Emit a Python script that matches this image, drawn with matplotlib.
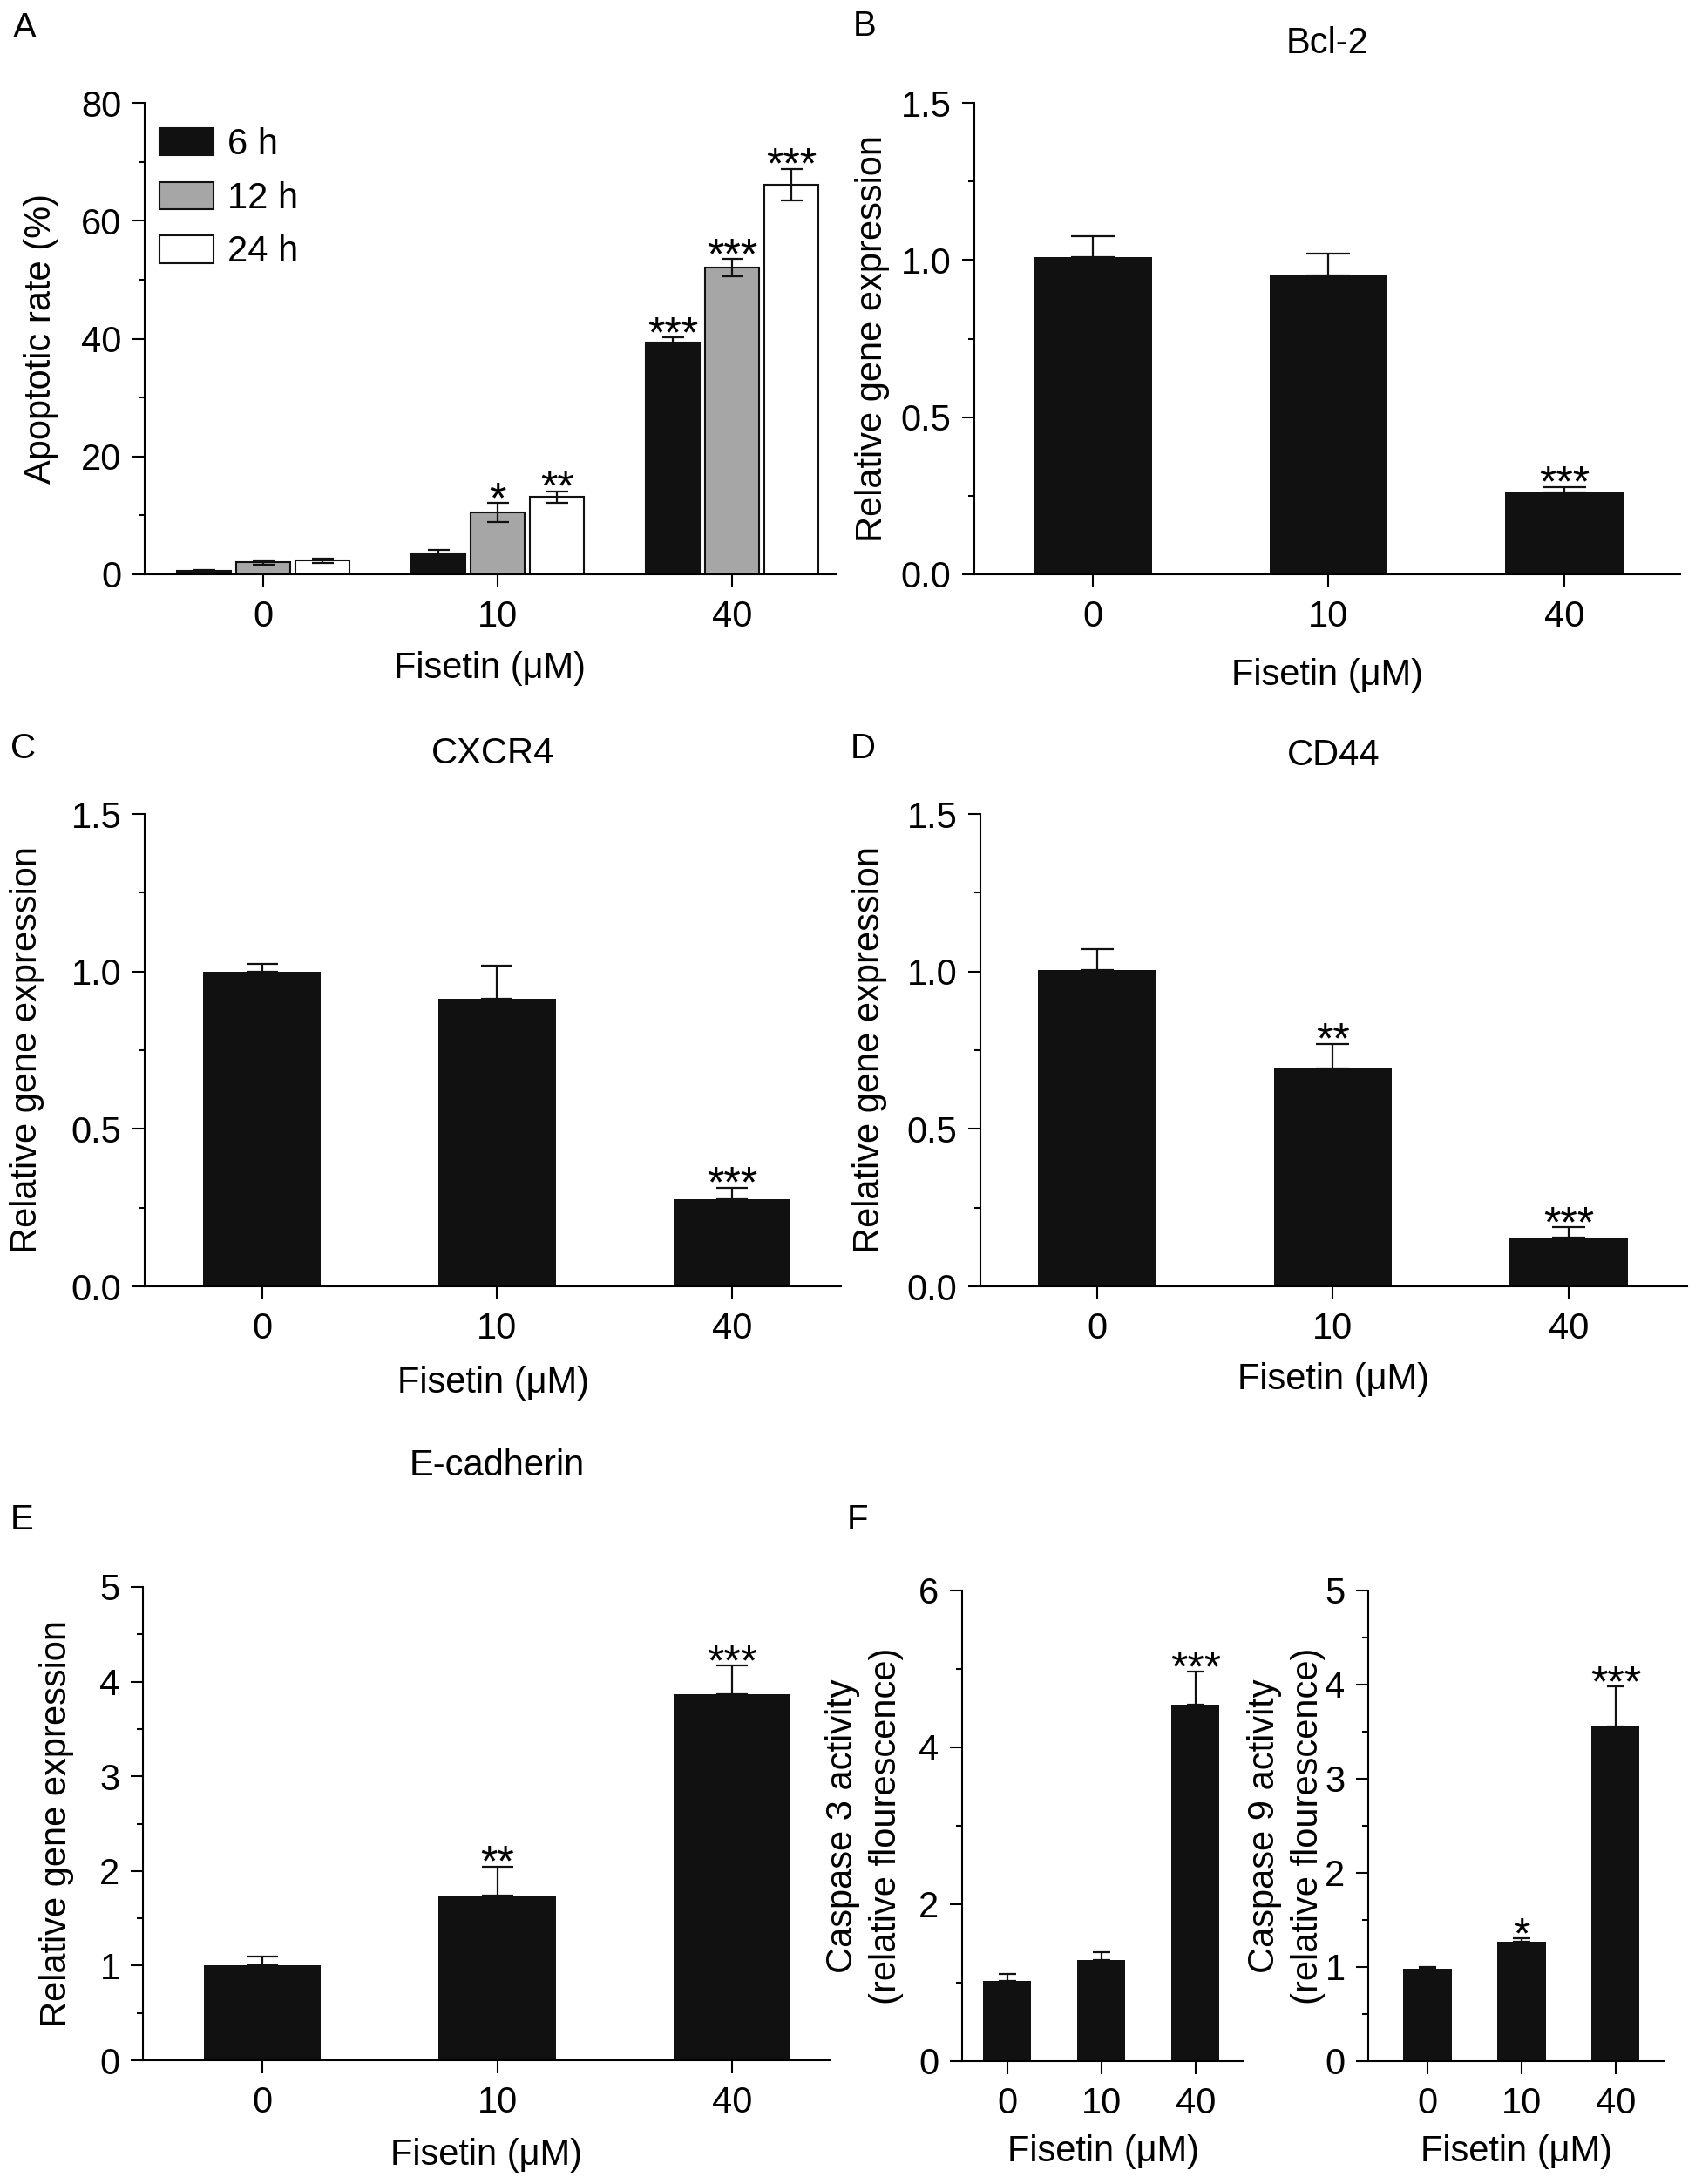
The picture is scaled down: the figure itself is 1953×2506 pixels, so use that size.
import numpy as np
import matplotlib
matplotlib.use('Agg')
import matplotlib.pyplot as plt
from matplotlib.ticker import MultipleLocator, FormatStrFormatter

plt.rcParams['font.family'] = ['Liberation Sans', 'DejaVu Sans']
plt.rcParams['font.size'] = 30

W, H = 1953, 2506

doses = ['0', '10', '40']

# panel A, apoptotic rate (%)
apop_6h = [0.6, 3.6, 39.3]
apop_6h_err = [0.2, 0.5, 0.9]
apop_12h = [2.0, 10.5, 52.0]
apop_12h_err = [0.4, 1.6, 1.5]
apop_24h = [2.3, 13.1, 66.1]
apop_24h_err = [0.4, 1.0, 2.7]
apop_6h_stars = ['', '', '***']
apop_12h_stars = ['', '*', '***']
apop_24h_stars = ['', '**', '***']

bcl2 = [1.01, 0.95, 0.26]
bcl2_err = [0.065, 0.07, 0.018]
bcl2_stars = ['', '', '***']

cxcr4 = [1.00, 0.914, 0.278]
cxcr4_err = [0.025, 0.104, 0.036]
cxcr4_stars = ['', '', '***']

cd44 = [1.005, 0.692, 0.156]
cd44_err = [0.067, 0.078, 0.032]
cd44_stars = ['', '**', '***']

ecad = [1.005, 1.741, 3.870]
ecad_err = [0.093, 0.306, 0.30]
ecad_stars = ['', '**', '***']

casp3 = [1.02, 1.29, 4.54]
casp3_err = [0.087, 0.10, 0.425]
casp3_stars = ['', '', '***']

casp9 = [0.98, 1.27, 3.56]
casp9_err = [0.02, 0.036, 0.417]
casp9_stars = ['', '*', '***']

BLACK = '#111111'
GRAY = '#a6a6a6'


def pos(l, r, t, b):
    return [l / W, 1 - b / H, (r - l) / W, (b - t) / H]


def style(ax, ylim, major, minor, fmt=None):
    ax.spines['top'].set_visible(False)
    ax.spines['right'].set_visible(False)
    for s in ['left', 'bottom']:
        ax.spines[s].set_linewidth(1.5)
    ax.set_ylim(*ylim)
    ax.yaxis.set_major_locator(MultipleLocator(major))
    ax.yaxis.set_minor_locator(MultipleLocator(minor))
    if fmt:
        ax.yaxis.set_major_formatter(FormatStrFormatter(fmt))
    ax.tick_params(axis='y', which='major', length=10, width=1.5, pad=9, labelsize=30)
    ax.tick_params(axis='y', which='minor', length=5, width=1.5)
    ax.tick_params(axis='x', which='major', length=11, width=1.5, pad=10, labelsize=30)
    ax.set_xticks(range(3))
    ax.set_xticklabels(doses)


def stars(ax, xs, tops, labels):
    for x, t, s in zip(xs, tops, labels):
        if s:
            ax.annotate(s, (x, t), xytext=(0, -8), textcoords='offset points',
                        ha='center', va='baseline', fontsize=36)


def xlab(ax, y):
    ax.set_xlabel('Fisetin (μM)', va='center')
    ax.xaxis.set_label_coords(0.5, y)


def ylab(ax, text, x, ls=1.2):
    ax.set_ylabel(text, va='center', linespacing=ls)
    ax.yaxis.set_label_coords(x, 0.5)


def black_panel(ax, vals, errs, labels, capsize, width=0.5):
    x = np.arange(3)
    ax.bar(x, vals, width=width, color=BLACK, edgecolor=BLACK, linewidth=0)
    ax.errorbar(x, vals, yerr=[np.zeros(3), errs], fmt='none', ecolor=BLACK,
                elinewidth=1.6, capsize=capsize, capthick=1.6)
    stars(ax, x, np.array(vals) + np.array(errs), labels)


fig = plt.figure(figsize=(W / 100, H / 100), dpi=100)

# A
ax = fig.add_axes(pos(166, 959, 118, 659))
x = np.arange(3)
bw, off = 0.23, 0.253
for dx, v, e, c, lab, st in [(-off, apop_6h, apop_6h_err, BLACK, '6 h', apop_6h_stars),
                             (0, apop_12h, apop_12h_err, GRAY, '12 h', apop_12h_stars),
                             (off, apop_24h, apop_24h_err, 'white', '24 h', apop_24h_stars)]:
    ax.bar(x + dx, v, width=bw, color=c, edgecolor=BLACK, linewidth=1.5, label=lab)
    ax.errorbar(x + dx, v, yerr=e, fmt='none', ecolor=BLACK, elinewidth=1.6,
                capsize=9, capthick=1.6)
    stars(ax, x + dx, np.array(v) + np.array(e), st)
style(ax, (0, 80), 20, 10)
ax.set_xlim(-0.506, 2.442)
ylab(ax, 'Apoptotic rate (%)', -0.150)
xlab(ax, -0.200)
ax.legend(loc='upper left', bbox_to_anchor=(0.022, 0.948), frameon=False,
          handlelength=1.47, handleheight=0.78, labelspacing=0.52,
          handletextpad=0.4, borderpad=0, borderaxespad=0, fontsize=30)

# B
ax = fig.add_axes(pos(1118, 1928, 118, 659))
black_panel(ax, bcl2, bcl2_err, bcl2_stars, 18)
style(ax, (0, 1.5), 0.5, 0.25, '%.1f')
ax.set_xlim(-0.503, 2.492)
ax.set_title('Bcl-2', pad=41, fontsize=30)
ylab(ax, 'Relative gene expression', -0.144)
xlab(ax, -0.214)

# C
ax = fig.add_axes(pos(166, 965, 934, 1476))
black_panel(ax, cxcr4, cxcr4_err, cxcr4_stars, 13)
style(ax, (0, 1.5), 0.5, 0.25, '%.1f')
ax.set_xlim(-0.50, 2.464)
ax.set_title('CXCR4', pad=42, fontsize=30)
ylab(ax, 'Relative gene expression', -0.169)
xlab(ax, -0.205)

# D
ax = fig.add_axes(pos(1125, 1936, 934, 1476))
black_panel(ax, cd44, cd44_err, cd44_stars, 14)
style(ax, (0, 1.5), 0.5, 0.25, '%.1f')
ax.set_xlim(-0.495, 2.503)
ax.set_title('CD44', pad=40, fontsize=30)
ylab(ax, 'Relative gene expression', -0.157)
xlab(ax, -0.198)

# E
ax = fig.add_axes(pos(164, 952, 1821, 2364))
black_panel(ax, ecad, ecad_err, ecad_stars, 13)
style(ax, (0, 5), 1, 0.5)
ax.set_xlim(-0.509, 2.416)
ax.set_title('E-cadherin', pad=92, fontsize=30, x=0.515)
ylab(ax, 'Relative gene expression', -0.126)
xlab(ax, -0.200)

# F left
ax = fig.add_axes(pos(1104, 1427, 1825, 2365))
black_panel(ax, casp3, casp3_err, casp3_stars, 7, width=0.51)
style(ax, (0, 6), 2, 1)
ax.set_xlim(-0.48, 2.51)
ylab(ax, 'Caspase 3 activity\n(relative flourescence)', -0.347, ls=1.3)
xlab(ax, -0.193)

# F right
ax = fig.add_axes(pos(1570, 1909, 1825, 2365))
black_panel(ax, casp9, casp9_err, casp9_stars, 7, width=0.51)
style(ax, (0, 5), 1, 0.5)
ax.set_xlim(-0.63, 2.51)
ylab(ax, 'Caspase 9 activity\n(relative flourescence)', -0.277, ls=1.3)
xlab(ax, -0.193)

for letter, lx, by in [('A', 15, 43), ('B', 979, 41), ('C', 12, 870),
                       ('D', 976, 870), ('E', 12, 1755), ('F', 972, 1755)]:
    fig.text(lx / W, 1 - by / H, letter, ha='left', va='baseline', fontsize=29)

fig.savefig('out.png', dpi=100)
